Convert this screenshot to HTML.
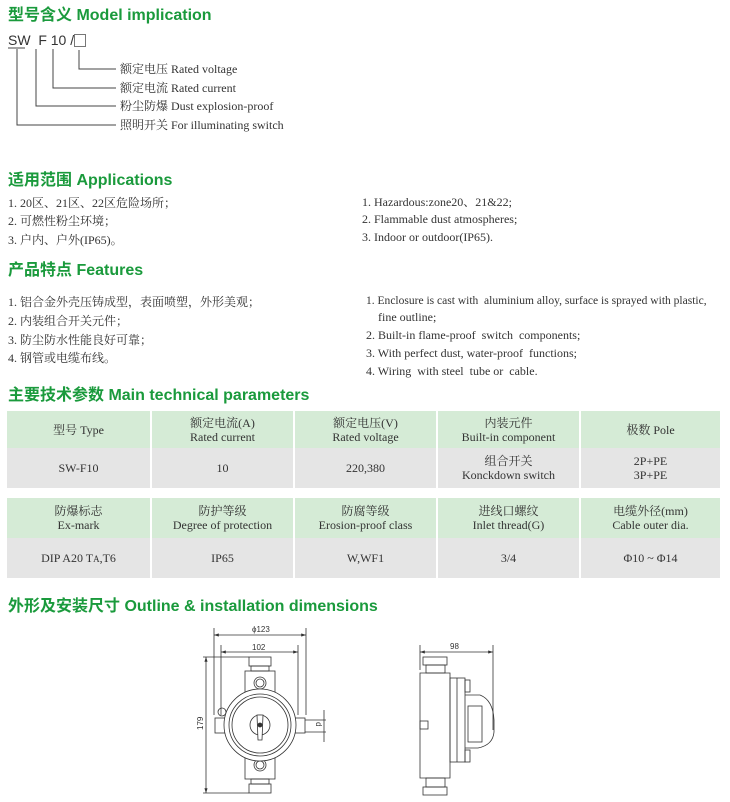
<!DOCTYPE html>
<html><head><meta charset="utf-8"><style>
body{margin:0;width:730px;height:802px;background:#fff;position:relative;overflow:hidden;font-family:"Liberation Serif","Noto Serif CJK SC",serif;color:#333;}
.t{position:absolute;left:8px;font-family:"Liberation Sans","Noto Sans CJK SC",sans-serif;font-weight:bold;color:#1a9a3c;font-size:16px;white-space:nowrap;line-height:20px}
.l{position:absolute;font-size:12px;white-space:nowrap;line-height:14px;color:#333}
table{position:absolute;left:7px;border-collapse:collapse;width:713px;font-size:12px;text-align:center;line-height:14px;color:#333}
td{border:1px solid #fff;border-width:0 2px;padding:0}
tr.h td{background:#d5ebd6}
tr.b td{background:#e5e5e5}
td:first-child{border-left:0}
td:last-child{border-right:0}
</style></head><body>
<div class="t" style="top:6px">型号含义 Model implication</div>
<div class="l" style="left:8px;top:32px;font-family:'Liberation Sans',sans-serif;font-size:14px;line-height:16px">SW&nbsp;&nbsp;F&nbsp;10 /</div>
<div style="position:absolute;left:74px;top:34px;width:10px;height:11px;border:1px solid #777"></div>
<svg style="position:absolute;left:0;top:0" width="730" height="140">
<g stroke="#444" fill="none" stroke-width="1">
<line x1="8" y1="48" x2="25" y2="48"/>
<polyline points="79,50 79,69 116,69"/>
<polyline points="53,49 53,88 116,88"/>
<polyline points="36,49 36,106 116,106"/>
<polyline points="17,49 17,125 116,125"/>
</g></svg>
<div class="l" style="left:120px;top:62px">额定电压 Rated voltage</div>
<div class="l" style="left:120px;top:81px">额定电流 Rated current</div>
<div class="l" style="left:120px;top:99px">粉尘防爆 Dust explosion-proof</div>
<div class="l" style="left:120px;top:118px">照明开关 For illuminating switch</div>

<div class="t" style="top:171px">适用范围 Applications</div>
<div class="l" style="left:8px;top:196px">1. 20区、21区、22区危险场所；</div>
<div class="l" style="left:8px;top:214px">2. 可燃性粉尘环境；</div>
<div class="l" style="left:8px;top:233px">3. 户内、户外(IP65)。</div>
<div class="l" style="left:362px;top:195px">1. Hazardous:zone20、21&amp;22;</div>
<div class="l" style="left:362px;top:212px">2. Flammable dust atmospheres;</div>
<div class="l" style="left:362px;top:230px">3. Indoor or outdoor(IP65).</div>

<div class="t" style="top:261px">产品特点 Features</div>
<div class="l" style="left:8px;top:295px">1. 铝合金外壳压铸成型，表面喷塑，外形美观；</div>
<div class="l" style="left:8px;top:314px">2. 内装组合开关元件；</div>
<div class="l" style="left:8px;top:333px">3. 防尘防水性能良好可靠；</div>
<div class="l" style="left:8px;top:351px">4. 钢管或电缆布线。</div>
<div class="l" style="left:366px;top:293px;transform:scaleX(0.96);transform-origin:left">1. Enclosure is cast with&nbsp; aluminium alloy, surface is sprayed with plastic,</div>
<div class="l" style="left:378px;top:310px">fine outline;</div>
<div class="l" style="left:366px;top:328px">2. Built-in flame-proof&nbsp; switch&nbsp; components;</div>
<div class="l" style="left:366px;top:346px">3. With perfect dust, water-proof&nbsp; functions;</div>
<div class="l" style="left:366px;top:364px">4. Wiring&nbsp; with steel&nbsp; tube or&nbsp; cable.</div>

<div class="t" style="top:386px">主要技术参数 Main technical parameters</div>
<table style="top:411px">
<colgroup><col style="width:144px"><col style="width:143px"><col style="width:143px"><col style="width:143px"><col style="width:140px"></colgroup>
<tr class="h" style="height:37px"><td>型号 Type</td><td>额定电流(A)<br>Rated current</td><td>额定电压(V)<br>Rated voltage</td><td>内装元件<br>Built-in component</td><td>极数 Pole</td></tr>
<tr class="b" style="height:40px"><td>SW-F10</td><td>10</td><td>220,380</td><td>组合开关<br>Konckdown switch</td><td>2P+PE<br>3P+PE</td></tr>
</table>
<table style="top:498px">
<colgroup><col style="width:144px"><col style="width:143px"><col style="width:143px"><col style="width:143px"><col style="width:140px"></colgroup>
<tr class="h" style="height:40px"><td>防爆标志<br>Ex-mark</td><td>防护等级<br>Degree of protection</td><td>防腐等级<br>Erosion-proof class</td><td>进线口螺纹<br>Inlet thread(G)</td><td>电缆外径(mm)<br>Cable outer dia.</td></tr>
<tr class="b" style="height:40px"><td>DIP A20 T<span style="font-size:9px">A</span>,T6</td><td>IP65</td><td>W,WF1</td><td>3/4</td><td>Φ10 ~ Φ14</td></tr>
</table>

<div class="t" style="top:597px">外形及安装尺寸 Outline &amp; installation dimensions</div>

<svg style="position:absolute;left:0;top:620px" width="730" height="182" font-family="Liberation Sans, sans-serif" font-size="8" fill="#333">
<defs><marker id="a" markerWidth="6" markerHeight="4" refX="6" refY="2" orient="auto-start-reverse"><path d="M0 0 L6 2 L0 4Z" fill="#333"/></marker></defs>
<g stroke="#333" fill="none" stroke-width="0.8">
<line x1="214" y1="15" x2="306" y2="15" marker-start="url(#a)" marker-end="url(#a)"/>
<line x1="214" y1="8" x2="214" y2="95"/><line x1="306" y1="8" x2="306" y2="95"/>
<line x1="221" y1="32" x2="298" y2="32" marker-start="url(#a)" marker-end="url(#a)"/>
<line x1="221" y1="25" x2="221" y2="95"/><line x1="298" y1="25" x2="298" y2="95"/>
<line x1="203" y1="37" x2="249" y2="37"/><line x1="203" y1="173" x2="249" y2="173"/>
<line x1="206" y1="37" x2="206" y2="173" marker-start="url(#a)" marker-end="url(#a)"/>
<line x1="305" y1="100" x2="326" y2="100"/><line x1="305" y1="112" x2="326" y2="112"/>
<line x1="324" y1="90" x2="324" y2="122"/>
<rect x="249" y="37" width="22" height="9"/>
<rect x="251" y="46" width="18" height="5"/>
<rect x="245" y="51" width="30" height="28"/>
<circle cx="260" cy="63" r="6"/><circle cx="260" cy="63" r="4"/>
<rect x="251" y="159" width="18" height="5"/>
<rect x="249" y="164" width="22" height="9"/>
<rect x="245" y="130" width="30" height="29"/>
<circle cx="260" cy="145" r="6"/><circle cx="260" cy="145" r="4"/>
<rect x="215" y="98" width="12" height="15"/>
<rect x="293" y="98" width="12" height="15"/>
<circle cx="222" cy="92" r="4"/>
<circle cx="260" cy="105" r="36" fill="#fff"/>
<circle cx="260" cy="105" r="31"/>
<circle cx="260" cy="105" r="28"/>
<circle cx="260" cy="105" r="10"/>
<path d="M257 95 L263 95 L262 120 L258 120 Z" fill="#fff"/>
<circle cx="260" cy="105" r="2" fill="#333"/>
<line x1="420" y1="32" x2="493" y2="32" marker-start="url(#a)" marker-end="url(#a)"/>
<line x1="420" y1="25" x2="420" y2="50"/><line x1="493" y1="25" x2="493" y2="110"/>
<rect x="423" y="37" width="24" height="8"/>
<rect x="426" y="45" width="19" height="8"/>
<path d="M420 53 L450 53 L450 158 L420 158 Z"/>
<rect x="420" y="101" width="8" height="8"/>
<rect x="426" y="158" width="19" height="9"/>
<rect x="423" y="167" width="24" height="8"/>
<rect x="450" y="58" width="15" height="84"/>
<line x1="457" y1="58" x2="457" y2="142"/>
<rect x="465" y="60" width="5" height="12"/><rect x="465" y="130" width="5" height="12"/>
<path d="M465 75 L480 75 Q493 80 494 100 L494 112 Q493 125 478 128 L465 128"/>
<rect x="468" y="86" width="14" height="36"/>
</g>
<text x="252" y="12">ϕ123</text>
<text x="252" y="30">102</text>
<text x="450" y="29">98</text>
<text x="0" y="0" transform="translate(203,110) rotate(-90)">179</text>
<text x="0" y="0" transform="translate(316,102) rotate(90)">d</text>
</svg>
</body></html>
